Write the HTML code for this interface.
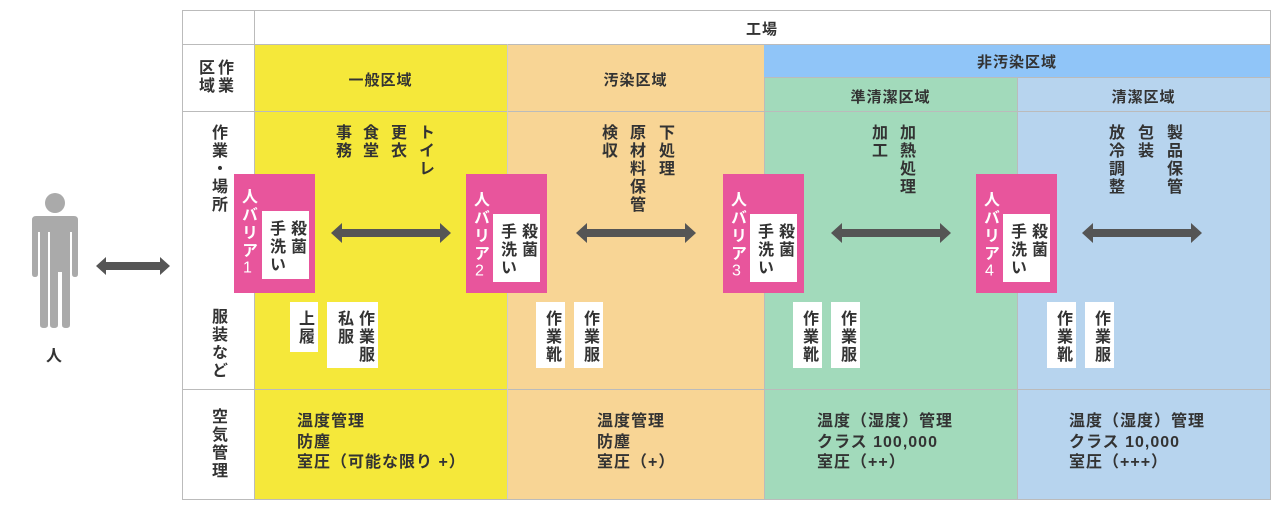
<!DOCTYPE html>
<html><head><meta charset="utf-8"><style>
body{margin:0;width:1280px;height:512px;background:#fff;position:relative;overflow:hidden;font-family:"Liberation Sans","Noto Sans CJK JP",sans-serif;font-weight:bold;color:#333;}
.a{position:absolute;}
.v{position:absolute;writing-mode:vertical-rl;font-size:16px;line-height:16px;letter-spacing:2px;width:18px;text-align:start;}
.v span{text-combine-upright:all;font-weight:normal;}
.c{position:absolute;text-align:center;font-size:15px;letter-spacing:1px;}
.box{position:absolute;background:#fff;}
.pk{position:absolute;background:#e8559c;}
.air{position:absolute;font-size:16px;line-height:20.5px;letter-spacing:1px;}
</style></head><body>
<div class="a" style="left:182px;top:10px;width:1087px;height:488px;border:1px solid #bbb;"></div>
<div class="a" style="left:254px;top:44px;width:253px;height:455px;background:#f5e83a"></div>
<div class="a" style="left:507px;top:44px;width:257px;height:455px;background:#f8d595"></div>
<div class="a" style="left:764px;top:44px;width:253px;height:455px;background:#a2dabb"></div>
<div class="a" style="left:1017px;top:44px;width:253px;height:455px;background:#b7d4ee"></div>
<div class="a" style="left:764px;top:44px;width:506px;height:33px;background:#90c5f8"></div>
<div class="a" style="left:254px;top:10px;width:1px;height:489px;background:#bbb"></div>
<div class="a" style="left:182px;top:44px;width:1088px;height:1px;background:#bbb"></div>
<div class="a" style="left:182px;top:111px;width:1088px;height:1px;background:#bbb"></div>
<div class="a" style="left:182px;top:389px;width:1088px;height:1px;background:#bbb"></div>
<div class="a" style="left:507px;top:44px;width:1px;height:455px;background:#ccc"></div>
<div class="a" style="left:764px;top:77px;width:1px;height:422px;background:#bbb"></div>
<div class="a" style="left:1017px;top:77px;width:1px;height:422px;background:#bbb"></div>
<div class="a" style="left:764px;top:77px;width:506px;height:1px;background:#bbb"></div>
<div class="c" style="left:254px;top:18px;width:1016px">工場</div>
<div class="c" style="left:254px;top:69px;width:253px">一般区域</div>
<div class="c" style="left:507px;top:69px;width:257px">汚染区域</div>
<div class="c" style="left:764px;top:51px;width:506px">非汚染区域</div>
<div class="c" style="left:764px;top:86px;width:253px">準清潔区域</div>
<div class="c" style="left:1017px;top:86px;width:253px">清潔区域</div>
<div class="a" style="left:199px;top:60px;font-size:16px;line-height:18px;letter-spacing:3px">区作<br>域業</div>
<div class="v" style="left:207px;top:124px">作業・場所</div>
<div class="v" style="left:207px;top:308px">服装など</div>
<div class="v" style="left:207px;top:408px">空気管理</div>
<div class="v" style="left:331px;top:124px">事務</div>
<div class="v" style="left:358px;top:124px">食堂</div>
<div class="v" style="left:386px;top:124px">更衣</div>
<div class="v" style="left:414px;top:124px">トイレ</div>
<div class="v" style="left:597px;top:124px">検収</div>
<div class="v" style="left:625px;top:124px">原材料保管</div>
<div class="v" style="left:654px;top:124px">下処理</div>
<div class="v" style="left:867px;top:124px">加工</div>
<div class="v" style="left:895px;top:124px">加熱処理</div>
<div class="v" style="left:1104px;top:124px">放冷調整</div>
<div class="v" style="left:1133px;top:124px">包装</div>
<div class="v" style="left:1162px;top:124px">製品保管</div>
<svg class="a" style="left:0;top:0" width="1280" height="512">
<g fill="#555">
<polygon points="96,266 106,257 106,262 160,262 160,257 170,266 160,275 160,270 106,270 106,275"/>
<polygon points="331,233 342,223 342,229 440,229 440,223 451,233 440,243 440,237 342,237 342,243"/>
<polygon points="576,233 587,223 587,229 685,229 685,223 696,233 685,243 685,237 587,237 587,243"/>
<polygon points="831,233 842,223 842,229 940,229 940,223 951,233 940,243 940,237 842,237 842,243"/>
<polygon points="1082,233 1093,223 1093,229 1191,229 1191,223 1202,233 1191,243 1191,237 1093,237 1093,243"/>
</g>
<g fill="#aaa">
<circle cx="55" cy="203" r="10"/>
<path d="M36 216 H74 Q78 216 78 220 V274 Q78 277 75 277 Q72 277 72 274 V232 H70 V325 Q70 328 66 328 Q62 328 62 325 V272 H58 V325 Q58 328 54 328 Q50 328 50 325 V232 H48 V325 Q48 328 44 328 Q40 328 40 325 V232 H38 V274 Q38 277 35 277 Q32 277 32 274 V220 Q32 216 36 216Z"/>
</g>
</svg>
<div class="a" style="left:46px;top:342px;font-size:16px">人</div>
<div class="pk" style="left:234px;top:174px;width:81px;height:119px"></div>
<div class="pk" style="left:466px;top:174px;width:81px;height:119px"></div>
<div class="pk" style="left:723px;top:174px;width:81px;height:119px"></div>
<div class="pk" style="left:976px;top:174px;width:81px;height:119px"></div>
<div class="box" style="left:262px;top:211px;width:47px;height:68px"></div>
<div class="box" style="left:493px;top:214px;width:47px;height:68px"></div>
<div class="box" style="left:750px;top:214px;width:47px;height:68px"></div>
<div class="box" style="left:1003px;top:214px;width:47px;height:68px"></div>
<div class="v" style="left:237px;top:188px;color:#fff">人バリア<span>1</span></div>
<div class="v" style="left:469px;top:191px;color:#fff">人バリア<span>2</span></div>
<div class="v" style="left:726px;top:191px;color:#fff">人バリア<span>3</span></div>
<div class="v" style="left:979px;top:191px;color:#fff">人バリア<span>4</span></div>
<div class="v" style="left:286px;top:220px">殺菌</div><div class="v" style="left:265px;top:220px">手洗い</div>
<div class="v" style="left:517px;top:223px">殺菌</div><div class="v" style="left:496px;top:223px">手洗い</div>
<div class="v" style="left:774px;top:223px">殺菌</div><div class="v" style="left:753px;top:223px">手洗い</div>
<div class="v" style="left:1027px;top:223px">殺菌</div><div class="v" style="left:1006px;top:223px">手洗い</div>
<div class="box" style="left:290px;top:302px;width:28px;height:50px"></div>
<div class="box" style="left:327px;top:302px;width:51px;height:66px"></div>
<div class="box" style="left:536px;top:302px;width:29px;height:66px"></div>
<div class="box" style="left:574px;top:302px;width:29px;height:66px"></div>
<div class="box" style="left:793px;top:302px;width:29px;height:66px"></div>
<div class="box" style="left:831px;top:302px;width:29px;height:66px"></div>
<div class="box" style="left:1047px;top:302px;width:29px;height:66px"></div>
<div class="box" style="left:1085px;top:302px;width:29px;height:66px"></div>
<div class="v" style="left:294px;top:310px">上履</div>
<div class="v" style="left:354px;top:310px">作業服</div><div class="v" style="left:333px;top:310px">私服</div>
<div class="v" style="left:541px;top:310px">作業靴</div><div class="v" style="left:579px;top:310px">作業服</div>
<div class="v" style="left:798px;top:310px">作業靴</div><div class="v" style="left:836px;top:310px">作業服</div>
<div class="v" style="left:1052px;top:310px">作業靴</div><div class="v" style="left:1090px;top:310px">作業服</div>
<div class="air" style="left:297px;top:412px">温度管理<br>防塵<br>室圧（可能な限り +）</div>
<div class="air" style="left:597px;top:412px">温度管理<br>防塵<br>室圧（+）</div>
<div class="air" style="left:817px;top:412px">温度（湿度）管理<br>クラス 100,000<br>室圧（++）</div>
<div class="air" style="left:1069px;top:412px">温度（湿度）管理<br>クラス 10,000<br>室圧（+++）</div>
</body></html>
